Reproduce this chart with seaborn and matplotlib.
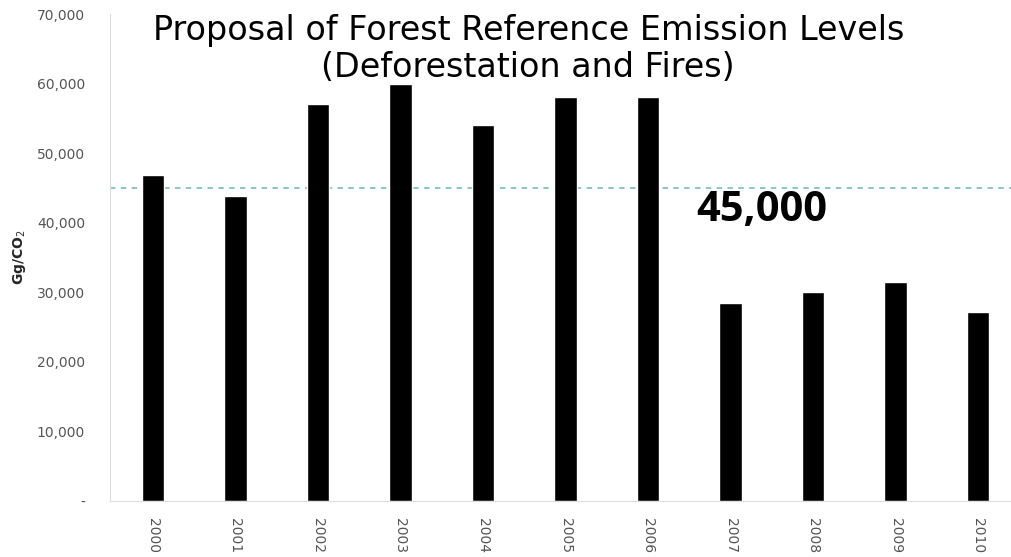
import matplotlib
matplotlib.use("Agg")
import matplotlib.pyplot as plt
import matplotlib.ticker as mticker
import pandas as pd
import seaborn as sns

# --- Data ---
years = ['2000', '2001', '2002', '2003', '2004', '2005',
         '2006', '2007', '2008', '2009', '2010']
emissions = [46800, 43900, 57100, 60000, 54100, 58100,
             58100, 28500, 30100, 31500, 27200]
reference_level = 45000
y_ticks = [0, 10000, 20000, 30000, 40000, 50000, 60000, 70000]

TITLE = 'Proposal of Forest Reference Emission Levels\n(Deforestation and Fires)'


def main():
    sns.set_style("white")
    df = pd.DataFrame({'year': years, 'emissions': emissions})

    fig = plt.figure(figsize=(10.12, 5.57), dpi=100)
    ax = fig.add_axes([110 / 1012, 56 / 557, 902 / 1012, 487 / 557])

    sns.barplot(data=df, x='year', y='emissions', color='black',
                width=0.27, saturation=1, ax=ax)

    # reference level line and its label
    ax.axhline(reference_level, color='#7fc4b4', linestyle=(0, (3, 3)),
               linewidth=1.3, zorder=0)
    ax.text(7.38, reference_level - 300, '45,000', ha='center', va='top',
            fontsize=30, fontweight='bold', family='Open Sans', color='black')

    ax.set_xlim(-0.52, 10.41)
    ax.set_ylim(0, 70000)
    ax.set_yticks(y_ticks)
    ax.yaxis.set_major_formatter(mticker.FuncFormatter(
        lambda v, _: '-' if v == 0 else f'{int(v):,}'))
    ax.tick_params(axis='y', length=4, color='#dddddd', labelsize=10,
                   labelcolor='#555555', pad=14)
    ax.tick_params(axis='x', length=0, labelsize=10, labelcolor='#555555',
                   labelrotation=-90, pad=12)

    for side in ['top', 'right']:
        ax.spines[side].set_visible(False)
    for side in ['left', 'bottom']:
        ax.spines[side].set_color('#dddddd')

    ax.set_xlabel('')
    ax.set_ylabel('Gg/CO$_2$', fontsize=10, fontweight='bold', labelpad=6)

    fig.text(0.522, 0.975, TITLE, ha='center', va='top', fontsize=24,
             family='DejaVu Sans', color='black', linespacing=1.15)

    fig.savefig('out.png', dpi=100)
    plt.close(fig)


if __name__ == "__main__":
    main()
